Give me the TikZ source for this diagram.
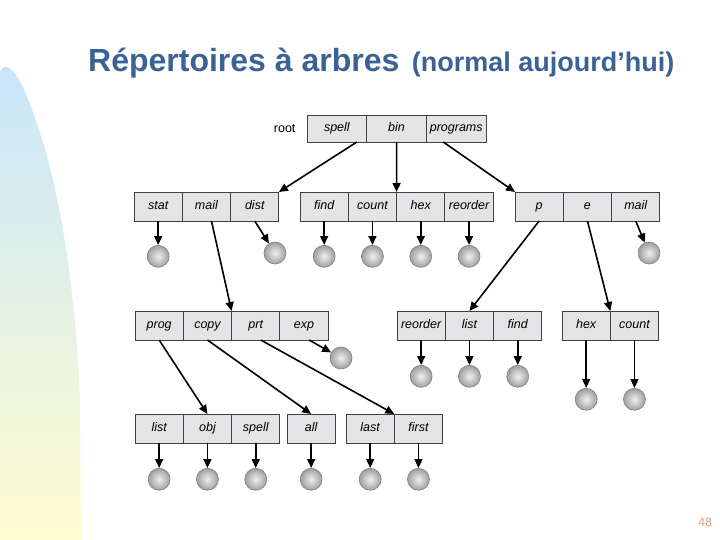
\documentclass[tikz,border=0pt]{standalone}
\usepackage{fontspec}
\setmainfont{Liberation Sans}
\usepackage{tikz}
\usetikzlibrary{arrows.meta,positioning}
\definecolor{titleblue}{RGB}{58,98,148}
\definecolor{cellgray}{RGB}{228,228,230}
\definecolor{bgblue}{RGB}{200,229,250}
\definecolor{bgyellow}{RGB}{255,253,208}
\definecolor{pagetan}{RGB}{214,160,122}

\begin{document}
\begin{tikzpicture}[x=1pt, y=-1pt,
  cell/.style={draw=black!75, fill=cellgray, line width=0.9pt, minimum width=48.3pt, minimum height=29pt, text height=9pt, text depth=2.5pt, inner sep=0pt, outer sep=0pt, font=\fontsize{12.5}{14}\selectfont\itshape},
  rcell/.style={cell, minimum width=59.7pt, minimum height=27pt},
  leaf/.style={circle, minimum size=22pt, inner sep=0pt, draw=black!50, line width=0.6pt, inner color=black!6, outer color=black!38},
  arr/.style={-{Triangle[length=9pt,width=8pt]}, line width=1.6pt}
]
\useasboundingbox (0,0) rectangle (720,540);
\shade[top color=bgblue, bottom color=bgyellow] (0,540) -- (0,72) .. controls (4,62) and (14,66) .. (25,92) .. controls (50,150) and (74,250) .. (80,400) -- (81,540) -- cycle;

% title
\node[anchor=base west, inner sep=0pt, text=titleblue, font=\fontsize{32}{32}\selectfont\bfseries] (title) at (88,72) {Répertoires à arbres};
\node[right=12pt of title.base east, anchor=base west, inner sep=0pt, text=titleblue, font=\fontsize{27}{27}\selectfont\bfseries] (subtitle) {(normal aujourd’hui)};

% root directory
\node[rcell, anchor=north west] (spell) at (307,115) {spell};
\node[rcell, right=0pt of spell] (bin) {bin};
\node[rcell, right=0pt of bin] (programs) {programs};
\node[left=8pt of spell, font=\fontsize{12.5}{14}\selectfont] (root) {root};

% second level
\node[cell, anchor=north west] (stat) at (134,192) {stat};
\node[cell, right=0pt of stat] (mail) {mail};
\node[cell, right=0pt of mail] (dist) {dist};
\node[cell, anchor=north west] (find) at (300,192) {find};
\node[cell, right=0pt of find] (count) {count};
\node[cell, right=0pt of count] (hex) {hex};
\node[cell, right=0pt of hex] (reorder) {reorder};
\node[cell, anchor=north west] (p) at (515,192) {p};
\node[cell, right=0pt of p] (e) {e};
\node[cell, right=0pt of e] (mailb) {mail};

% third level
\node[cell, anchor=north west] (prog) at (135,311) {prog};
\node[cell, right=0pt of prog] (copy) {copy};
\node[cell, right=0pt of copy] (prt) {prt};
\node[cell, right=0pt of prt] (exp) {exp};
\node[cell, anchor=north west] (reorderb) at (397,311) {reorder};
\node[cell, right=0pt of reorderb] (list) {list};
\node[cell, right=0pt of list] (findb) {find};
\node[cell, anchor=north west] (hexb) at (562,311) {hex};
\node[cell, right=0pt of hexb] (countb) {count};

% fourth level
\node[cell, anchor=north west] (listb) at (135,414) {list};
\node[cell, right=0pt of listb] (obj) {obj};
\node[cell, right=0pt of obj] (spellb) {spell};
\node[cell, anchor=north west] (all) at (287,414) {all};
\node[cell, anchor=north west] (last) at (346,414) {last};
\node[cell, right=0pt of last] (first) {first};

% files
\node[leaf, below=24pt of stat] (stat-f) {};
\node[leaf] (dist-f) at (275,253) {};
\node[leaf, below=24pt of find] (find-f) {};
\node[leaf, below=24pt of count] (count-f) {};
\node[leaf, below=24pt of hex] (hex-f) {};
\node[leaf, below=24pt of reorder] (reorder-f) {};
\node[leaf] (mailb-f) at (649,253) {};
\node[leaf] (exp-f) at (341,358) {};
\node[leaf, below=25pt of reorderb] (reorderb-f) {};
\node[leaf, below=25pt of list] (list-f) {};
\node[leaf, below=25pt of findb] (findb-f) {};
\node[leaf, below=48pt of hexb] (hexb-f) {};
\node[leaf, below=48pt of countb] (countb-f) {};
\node[leaf, below=25pt of listb] (listb-f) {};
\node[leaf, below=25pt of obj] (obj-f) {};
\node[leaf, below=25pt of spellb] (spellb-f) {};
\node[leaf, below=25pt of all] (all-f) {};
\node[leaf, below=25pt of last] (last-f) {};
\node[leaf, below=25pt of first] (first-f) {};

% subdirectory links
\draw[arr] ([xshift=20pt]spell.south) -- (dist.north east);
\draw[arr] (bin) -- (count.north east);
\draw[arr] ([xshift=-13pt]programs.south) -- (p.north west);
\draw[arr] ([xshift=5pt]mail.south) -- (copy.north east);
\draw[arr] (p.south) -- (list.north);
\draw[arr] (e.south) -- (hexb.north east);
\draw[arr] (prog.south) -- (obj.north);
\draw[arr] (copy.south) -- (all.north);
\draw[arr] ([xshift=5pt]prt.south) -- (last.north east);

% file links
\draw[arr] (stat) -- (stat-f);
\draw[arr] (dist.south) -- (dist-f);
\draw[arr] (find) -- (find-f);
\draw[arr] (count) -- (count-f);
\draw[arr] (hex) -- (hex-f);
\draw[arr] (reorder) -- (reorder-f);
\draw[arr] (mailb.south) -- (mailb-f);
\draw[arr] ([xshift=5pt]exp.south) -- (exp-f);
\draw[arr] (reorderb) -- (reorderb-f);
\draw[arr] (list) -- (list-f);
\draw[arr] (findb) -- (findb-f);
\draw[arr] (hexb) -- (hexb-f);
\draw[arr] (countb) -- (countb-f);
\draw[arr] (listb) -- (listb-f);
\draw[arr] (obj) -- (obj-f);
\draw[arr] (spellb) -- (spellb-f);
\draw[arr] (all) -- (all-f);
\draw[arr] (last) -- (last-f);
\draw[arr] (first) -- (first-f);

\node[text=pagetan, font=\fontsize{12}{12}\selectfont] (pagenum) at (705,522) {48};
\end{tikzpicture}
\end{document}
